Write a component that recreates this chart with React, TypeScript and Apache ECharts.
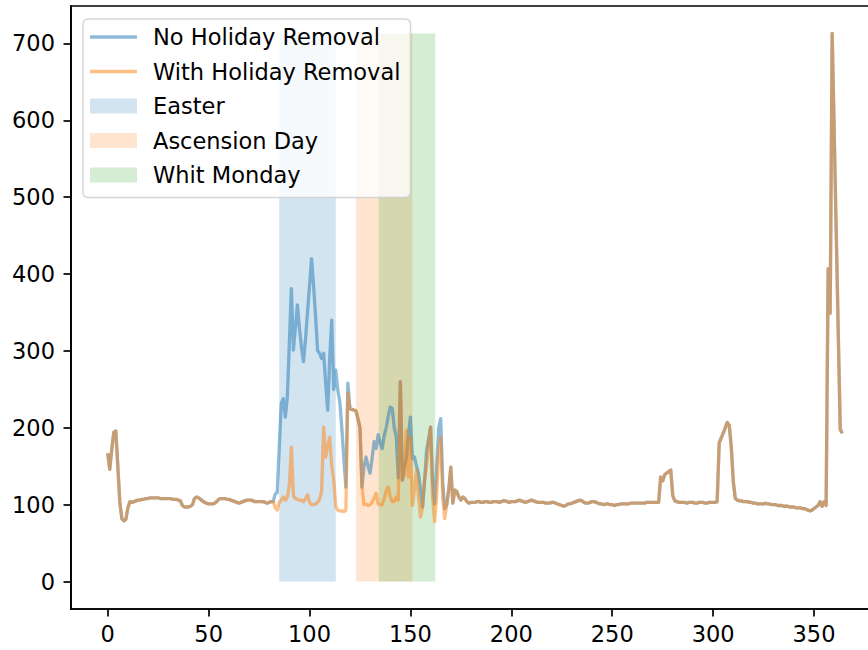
import React, { useEffect, useRef } from "react";
import * as echarts from "echarts";

// Daily values (day index 0..364)
const withHolidayRemoval: number[] = [
  // 0-9
  167, 146, 172, 194, 196, 150, 103, 82, 79, 81,
  // 10-19
  96, 104, 103, 104, 105, 106, 106, 107, 107, 108,
  // 20-29
  108, 109, 109, 109, 109, 109, 108, 108, 108, 108,
  // 30-39
  108, 108, 107, 107, 107, 106, 105, 99, 97, 97,
  // 40-49
  97, 98, 100, 108, 110, 109, 107, 105, 103, 102,
  // 50-59
  101, 101, 101, 102, 104, 107, 108, 108, 108, 107,
  // 60-69
  107, 106, 105, 104, 103, 102, 103, 104, 105, 106,
  // 70-79
  106, 106, 105, 104, 104, 104, 104, 104, 103, 102,
  // 80-89
  103, 104, 104, 96, 93, 103, 106, 110, 106, 110,
  // 90-99
  125, 175, 112, 108, 107, 106, 106, 104, 108, 113,
  // 100-109
  103, 100, 100, 101, 103, 107, 118, 201, 162, 175,
  // 110-119
  188, 150, 132, 98, 93, 92, 92, 91, 93, 245,
  // 120-129
  225, 224, 223, 222, 212, 200, 123, 100, 101, 99,
  // 130-139
  100, 103, 108, 115, 101, 100, 100, 108, 118, 123,
  // 140-149
  110, 104, 104, 110, 106, 260, 132, 140, 197, 136,
  // 150-159
  188, 99, 120, 145, 110, 84, 97, 132, 150, 180,
  // 160-169
  201, 110, 78, 110, 167, 188, 110, 82, 100, 120,
  // 170-179
  149, 102, 119, 117, 110, 106, 110, 108, 104, 102,
  // 180-189
  103, 103, 103, 104, 104, 103, 103, 104, 104, 103,
  // 190-199
  103, 104, 104, 104, 103, 104, 105, 105, 104, 103,
  // 200-209
  104, 104, 104, 105, 106, 105, 104, 103, 104, 105,
  // 210-219
  106, 105, 104, 103, 103, 103, 103, 102, 102, 102,
  // 220-229
  103, 103, 102, 101, 100, 99, 98, 99, 101, 101,
  // 230-239
  102, 103, 104, 105, 106, 105, 103, 102, 102, 103,
  // 240-249
  104, 104, 103, 102, 101, 101, 100, 101, 101, 100,
  // 250-259
  100, 99, 100, 100, 101, 101, 101, 101, 101, 102,
  // 260-269
  102, 102, 102, 102, 102, 102, 102, 103, 103, 103,
  // 270-279
  103, 103, 103, 103, 136, 131, 139, 141, 143, 145,
  // 280-289
  112, 105, 104, 103, 103, 103, 103, 102, 103, 103,
  // 290-299
  103, 102, 102, 103, 103, 103, 102, 102, 103, 103,
  // 300-309
  103, 103, 104, 180, 187, 193, 200, 207, 203, 175,
  // 310-319
  130, 108, 106, 105, 105, 104, 104, 104, 103, 103,
  // 320-329
  102, 102, 101, 101, 101, 101, 102, 101, 101, 100,
  // 330-339
  100, 100, 99, 99, 99, 98, 98, 98, 97, 97,
  // 340-349
  97, 96, 96, 96, 95, 95, 94, 93, 92, 93,
  // 350-359
  95, 97, 99, 104, 98, 104, 99, 407, 349, 713,
  // 360-364
  585, 455, 325, 198, 193,
];

const noHolidayRemoval: number[] = [
  // 0-9
  167, 146, 172, 194, 196, 150, 103, 82, 79, 81,
  // 10-19
  96, 104, 103, 104, 105, 106, 106, 107, 107, 108,
  // 20-29
  108, 109, 109, 109, 109, 109, 108, 108, 108, 108,
  // 30-39
  108, 108, 107, 107, 107, 106, 105, 99, 97, 97,
  // 40-49
  97, 98, 100, 108, 110, 109, 107, 105, 103, 102,
  // 50-59
  101, 101, 101, 102, 104, 107, 108, 108, 108, 107,
  // 60-69
  107, 106, 105, 104, 103, 102, 103, 104, 105, 106,
  // 70-79
  106, 106, 105, 104, 104, 104, 104, 104, 103, 102,
  // 80-89
  103, 104, 104, 114, 116, 175, 232, 238, 214, 240,
  // 90-99
  310, 381, 301, 330, 360, 330, 305, 286, 315, 350,
  // 100-109
  385, 420, 385, 345, 300, 297, 290, 297, 258, 223,
  // 110-119
  290, 340, 250, 275, 249, 234, 200, 160, 123, 258,
  // 120-129
  225, 224, 223, 222, 212, 200, 123, 150, 162, 150,
  // 130-139
  141, 160, 182, 173, 191, 180, 173, 190, 200, 215,
  // 140-149
  227, 225, 200, 188, 135, 260, 132, 150, 160, 190,
  // 150-159
  214, 160, 162, 150, 141, 120, 97, 130, 170, 185,
  // 160-169
  201, 130, 101, 150, 200, 212, 130, 95, 100, 120,
  // 170-179
  149, 102, 119, 117, 110, 106, 110, 108, 104, 102,
  // 180-189
  103, 103, 103, 104, 104, 103, 103, 104, 104, 103,
  // 190-199
  103, 104, 104, 104, 103, 104, 105, 105, 104, 103,
  // 200-209
  104, 104, 104, 105, 106, 105, 104, 103, 104, 105,
  // 210-219
  106, 105, 104, 103, 103, 103, 103, 102, 102, 102,
  // 220-229
  103, 103, 102, 101, 100, 99, 98, 99, 101, 101,
  // 230-239
  102, 103, 104, 105, 106, 105, 103, 102, 102, 103,
  // 240-249
  104, 104, 103, 102, 101, 101, 100, 101, 101, 100,
  // 250-259
  100, 99, 100, 100, 101, 101, 101, 101, 101, 102,
  // 260-269
  102, 102, 102, 102, 102, 102, 102, 103, 103, 103,
  // 270-279
  103, 103, 103, 103, 136, 131, 139, 141, 143, 145,
  // 280-289
  112, 105, 104, 103, 103, 103, 103, 102, 103, 103,
  // 290-299
  103, 102, 102, 103, 103, 103, 102, 102, 103, 103,
  // 300-309
  103, 103, 104, 180, 187, 193, 200, 207, 203, 175,
  // 310-319
  130, 108, 106, 105, 105, 104, 104, 104, 103, 103,
  // 320-329
  102, 102, 101, 101, 101, 101, 102, 101, 101, 100,
  // 330-339
  100, 100, 99, 99, 99, 98, 98, 98, 97, 97,
  // 340-349
  97, 96, 96, 96, 95, 95, 94, 93, 92, 93,
  // 350-359
  95, 97, 99, 104, 98, 104, 99, 407, 349, 713,
  // 360-364
  585, 455, 325, 198, 193,
];

const holidayNames = ["Easter", "Ascension Day", "Whit Monday"];
const holidayStart = [85, 123, 134.3];
const holidayEnd = [113, 151, 162.3];

const xTicks = [0, 50, 100, 150, 200, 250, 300, 350];
const yTicks = [0, 100, 200, 300, 400, 500, 600, 700];

const lineColors = ["rgba(31,119,180,0.5)", "rgba(255,127,14,0.5)"];
const spanColors = ["rgba(31,119,180,0.2)", "rgba(255,127,14,0.2)", "rgba(44,160,44,0.2)"];

const FONT = "DejaVu Sans";
const FS = 22.5;

export default function App() {
  const ref = useRef<HTMLDivElement>(null);

  useEffect(() => {
    if (!ref.current) return;
    const chart = echarts.init(ref.current, undefined, { renderer: "svg" });

    const n = withHolidayRemoval.length;
    const allVals = noHolidayRemoval.concat(withHolidayRemoval);
    const top = Math.max(...allVals);
    const bottom = 0;
    const yPad = (top - bottom) * 0.05;
    const xPad = (n - 1) * 0.05;

    const blueData = noHolidayRemoval.map((v, i) => [i, v]);
    const orangeData = withHolidayRemoval.map((v, i) => [i, v]);

    const spanSeries = holidayNames.map((name, k) => ({
      name,
      type: "custom" as const,
      z: 1,
      silent: true,
      itemStyle: { color: spanColors[k] },
      encode: { x: [0, 1], y: 2 },
      data: [[holidayStart[k], holidayEnd[k], top]],
      renderItem: (params: any, api: any) => {
        const p0 = api.coord([api.value(0), bottom]);
        const p1 = api.coord([api.value(1), api.value(2)]);
        return {
          type: "rect",
          shape: { x: p0[0], y: p1[1], width: p1[0] - p0[0], height: p0[1] - p1[1] },
          style: { fill: spanColors[k] },
        };
      },
    }));

    const lineIcon = "path://M0 0H47V3.3H0Z";

    chart.setOption({
      animation: false,
      backgroundColor: "#ffffff",
      grid: {
        left: 71,
        right: 1,
        top: 6,
        bottom: 41,
        show: true,
        borderColor: "#000",
        borderWidth: 1.7,
        backgroundColor: "transparent",
      },
      legend: {
        orient: "vertical",
        left: 83,
        top: 19,
        itemWidth: 47,
        itemHeight: 15,
        itemGap: 11.5,
        padding: [6.5, 10, 11, 7],
        backgroundColor: "rgba(255,255,255,0.8)",
        borderColor: "rgba(204,204,204,0.8)",
        borderWidth: 1.5,
        borderRadius: 5,
        selectedMode: false,
        symbolKeepAspect: true,
        textStyle: {
          fontFamily: FONT,
          fontSize: FS,
          color: "#000",
          padding: [0, 0, 0, 11],
        },
        data: [
          { name: "No Holiday Removal", icon: lineIcon },
          { name: "With Holiday Removal", icon: lineIcon },
          { name: "Easter", icon: "rect" },
          { name: "Ascension Day", icon: "rect" },
          { name: "Whit Monday", icon: "rect" },
        ],
      },
      xAxis: {
        type: "value",
        min: -xPad,
        max: n - 1 + xPad,
        splitLine: { show: false },
        axisLine: { show: true, onZero: false, lineStyle: { color: "#000", width: 1.7 } },
        axisTick: {
          show: true,
          length: 7.5,
          inside: false,
          lineStyle: { color: "#000", width: 1.7 },
          customValues: xTicks,
        },
        axisLabel: {
          show: true,
          margin: 13,
          fontFamily: FONT,
          fontSize: FS,
          color: "#000",
          customValues: xTicks,
          showMinLabel: true,
          showMaxLabel: true,
        },
      },
      yAxis: {
        type: "value",
        min: bottom - yPad,
        max: top + yPad,
        splitLine: { show: false },
        axisLine: { show: true, onZero: false, lineStyle: { color: "#000", width: 1.7 } },
        axisTick: {
          show: true,
          length: 7.5,
          inside: false,
          lineStyle: { color: "#000", width: 1.7 },
          customValues: yTicks,
        },
        axisLabel: {
          show: true,
          margin: 16,
          fontFamily: FONT,
          fontSize: FS,
          color: "#000",
          customValues: yTicks,
        },
      },
      series: [
        {
          name: "No Holiday Removal",
          type: "line",
          z: 2,
          symbol: "none",
          silent: true,
          itemStyle: { color: lineColors[0] },
          lineStyle: { color: lineColors[0], width: 3.3, join: "round", cap: "butt" },
          data: blueData,
        },
        {
          name: "With Holiday Removal",
          type: "line",
          z: 2,
          symbol: "none",
          silent: true,
          itemStyle: { color: lineColors[1] },
          lineStyle: { color: lineColors[1], width: 3.3, join: "round", cap: "butt" },
          data: orangeData,
        },
        ...spanSeries,
      ],
    });

    return () => chart.dispose();
  }, []);

  return (
    <div
      style={{ position: "absolute", left: 0, top: 0, width: 868, height: 650, overflow: "hidden", background: "#fff" }}
    >
      <div ref={ref} style={{ position: "absolute", left: 0, top: 0, width: 880, height: 650 }} />
    </div>
  );
}
